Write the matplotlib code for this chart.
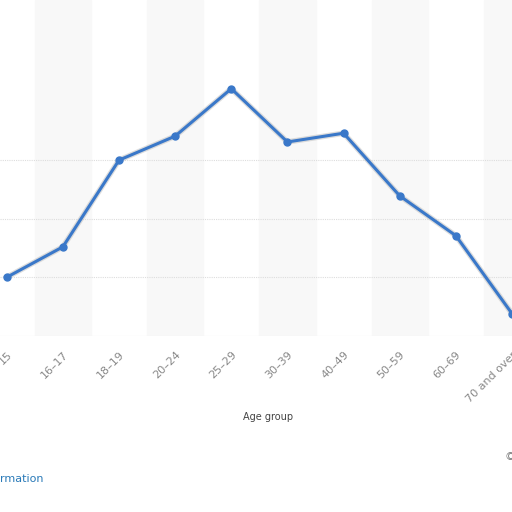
import matplotlib
matplotlib.use("Agg")
import matplotlib.pyplot as plt

categories = ["15", "16–17", "18–19", "20–24", "25–29", "30–39", "40–49", "50–59", "60–69", "70 and over"]
values = [1.0, 1.52, 3.0, 3.41, 4.22, 3.31, 3.46, 2.39, 1.71, 0.38]

fig = plt.figure(figsize=(5.12, 5.12), dpi=100)
ax = fig.add_axes([0, 0.344, 1, 0.656])
ax.set_xlim(-0.12, 8.52)
ax.set_ylim(0, 336/58.6)
for i in range(1, len(categories), 2):
    ax.axvspan(i-0.5, i+0.5, color="#f8f8f8", zorder=0)
for g in [1, 2, 3]:
    ax.axhline(g, color="#dddddd", lw=0.8, ls=(0, (1, 1)), zorder=1)
ax.axhline(0, color="#e6e6e6", lw=0.8, zorder=1)
x = list(range(len(categories)))
ax.plot(x, values, color="#bbbbbb", lw=4, alpha=0.5, zorder=2)
ax.plot(x, values, color="#3a78c9", lw=2.2, marker="o", ms=5, zorder=3)
for s in ax.spines.values():
    s.set_visible(False)
ax.set_yticks([])
ax.set_xticks(x)
ax.set_xticklabels(categories, rotation=45, ha="right", rotation_mode="anchor", color="#888888", fontsize=8)
ax.tick_params(axis="x", length=0, pad=10)
fig.text(268/512, 1-417/512, "Age group", ha="center", va="center", fontsize=7, color="#444444")
fig.text(0, 1-479/512, "rmation", ha="left", va="center", fontsize=8, color="#2a7ab8")
fig.text(505/512, 1-457/512, "©", ha="left", va="center", fontsize=8, color="#777777")
fig.savefig("out.png", dpi=100)
